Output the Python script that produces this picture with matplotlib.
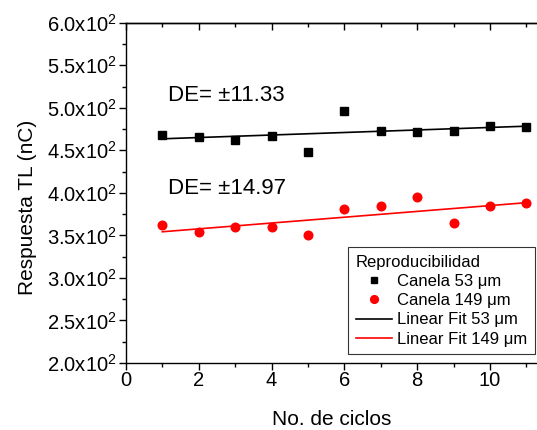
import matplotlib
matplotlib.use('Agg')
import matplotlib.pyplot as plt
from matplotlib.ticker import MultipleLocator, FuncFormatter, NullFormatter
import numpy as np

plt.rcParams['font.family'] = ['Liberation Sans', 'DejaVu Sans']
plt.rcParams['mathtext.fontset'] = 'custom'
plt.rcParams['mathtext.rm'] = 'Liberation Sans'
plt.rcParams['mathtext.it'] = 'Liberation Sans:italic'

# ── Data ────────────────────────────────────────────────────────────────
ciclos = np.arange(1, 12)
canela_53 = [468, 466, 462, 467, 448, 496.5, 473, 471.5, 472.5, 478.5, 477.5]
canela_149 = [362, 354, 359.5, 359.5, 351, 381.5, 384.5, 395, 364.5, 385, 388.5]
de_53 = 11.33
de_149 = 14.97

# ── Linear fits ─────────────────────────────────────────────────────────
fit_53 = np.polyval(np.polyfit(ciclos, canela_53, 1), ciclos)
fit_149 = np.polyval(np.polyfit(ciclos, canela_149, 1), ciclos)

fig = plt.figure(figsize=(5.37, 4.30), dpi=100)
ax = fig.add_axes([0.2346, 0.1558, 0.7654, 0.7914])

ax.plot(ciclos, canela_53, 's', color='black', markersize=5.5, label='Canela 53 \u03bcm')
ax.plot(ciclos, canela_149, 'o', color='red', markersize=6.2, label='Canela 149 \u03bcm')
ax.plot(ciclos, fit_53, '-', color='black', lw=1.2, label='Linear Fit 53 \u03bcm')
ax.plot(ciclos, fit_149, '-', color='red', lw=1.2, label='Linear Fit 149 \u03bcm')

ax.text(1.15, 515, f'DE= \u00b1{de_53:.2f}', fontsize=16, va='center')
ax.text(1.15, 405.5, f'DE= \u00b1{de_149:.2f}', fontsize=16, va='center')

# ── Axes ────────────────────────────────────────────────────────────────
ax.set_xlim(0, 11.29)
ax.set_ylim(200, 600)
ax.xaxis.set_major_locator(MultipleLocator(2))
ax.xaxis.set_minor_locator(MultipleLocator(1))
ax.yaxis.set_major_locator(MultipleLocator(50))
ax.yaxis.set_minor_locator(MultipleLocator(25))
ax.yaxis.set_major_formatter(FuncFormatter(lambda v, p: f'{v/100:.1f}x10$^{{2}}$'))

ax.spines['right'].set_visible(False)
for s in ax.spines.values():
    s.set_linewidth(1.0)

ax.tick_params(axis='both', which='major', direction='out', length=5, width=1,
               labelsize=14.5)
ax.tick_params(axis='both', which='minor', direction='out', length=3, width=1)
ax.tick_params(axis='x', which='major', pad=0.5)
ax.tick_params(axis='y', which='major', pad=2)

# top axis: ticks pointing inward, no labels
top = ax.secondary_xaxis('top')
top.xaxis.set_major_locator(MultipleLocator(2))
top.xaxis.set_minor_locator(MultipleLocator(1))
top.xaxis.set_major_formatter(NullFormatter())
top.tick_params(which='major', direction='in', length=5, width=1)
top.tick_params(which='minor', direction='in', length=3, width=1)
top.spines['top'].set_linewidth(1.0)

ax.set_xlabel('No. de ciclos', fontsize=15, labelpad=15)
ax.set_ylabel('Respuesta TL (nC)', fontsize=15)
ax.yaxis.set_label_coords(-0.2165, 0.456)

leg = ax.legend(title='Reproducibilidad', loc='lower right',
                bbox_to_anchor=(0.995, 0.026), fontsize=12, title_fontsize=12,
                frameon=True, fancybox=False, edgecolor='black',
                borderpad=0.45, labelspacing=0.25, handlelength=2.2,
                handletextpad=0.3, borderaxespad=0, markerscale=0.9)
leg.get_frame().set_linewidth(0.8)
leg._legend_box.align = 'left'

fig.savefig('out.png', dpi=100)
